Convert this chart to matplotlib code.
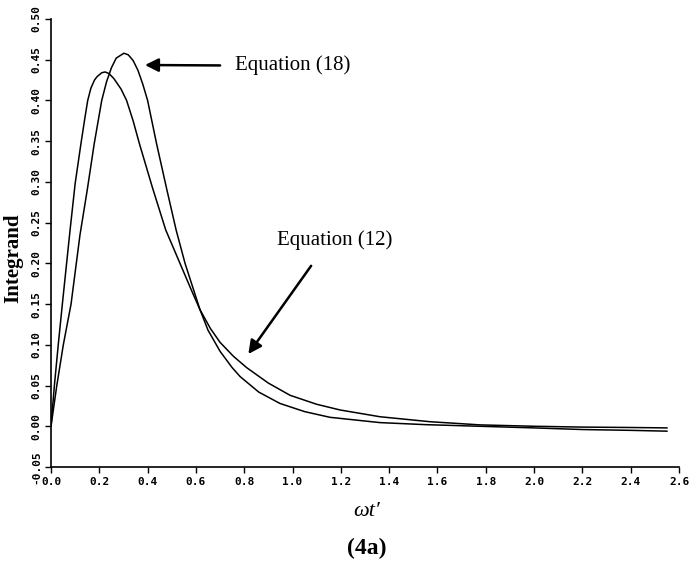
import numpy as np
import matplotlib
matplotlib.use("Agg")
import matplotlib.pyplot as plt

# values
eq12_x = [0.0, 0.014, 0.030, 0.047, 0.079, 0.10, 0.124, 0.14, 0.152, 0.165, 0.18, 0.19,
          0.21, 0.224, 0.24, 0.26, 0.29, 0.313, 0.34, 0.366, 0.42, 0.475, 0.534, 0.58,
          0.617, 0.66, 0.70, 0.755, 0.81, 0.90, 0.99, 1.10, 1.197, 1.362, 1.569, 1.776,
          2.0, 2.2, 2.4, 2.55]
eq12_y = [0.0, 0.05, 0.10, 0.15, 0.241, 0.298, 0.347, 0.378, 0.40, 0.415, 0.425, 0.429,
          0.434, 0.435, 0.433, 0.427, 0.414, 0.40, 0.375, 0.347, 0.293, 0.241, 0.20, 0.168,
          0.143, 0.12, 0.103, 0.086, 0.072, 0.053, 0.038, 0.027, 0.020, 0.0117, 0.0056, 0.0017,
          0.0, -0.001, -0.0015, -0.002]

eq18_x = [0.0, 0.024, 0.051, 0.083, 0.12, 0.15, 0.179, 0.21, 0.23, 0.25, 0.27, 0.302,
          0.32, 0.34, 0.36, 0.38, 0.40, 0.437, 0.48, 0.518, 0.555, 0.617, 0.65, 0.70,
          0.75, 0.783, 0.86, 0.948, 1.05, 1.155, 1.362, 1.55, 1.776, 2.0, 2.2, 2.4, 2.55]
eq18_y = [0.0, 0.05, 0.10, 0.15, 0.235, 0.29, 0.347, 0.40, 0.423, 0.44, 0.452, 0.458,
          0.456, 0.449, 0.437, 0.42, 0.40, 0.347, 0.29, 0.241, 0.20, 0.143, 0.118, 0.092,
          0.072, 0.061, 0.042, 0.028, 0.018, 0.011, 0.0045, 0.002, 0.0, -0.002, -0.004,
          -0.005, -0.006]

x_ticks = [0.0, 0.2, 0.4, 0.6, 0.8, 1.0, 1.2, 1.4, 1.6, 1.8, 2.0, 2.2, 2.4, 2.6]
y_ticks = [-0.05, 0.0, 0.05, 0.10, 0.15, 0.20, 0.25, 0.30, 0.35, 0.40, 0.45, 0.50]

serif = ['Liberation Serif', 'DejaVu Serif']
mono = ['DejaVu Sans Mono']

fig = plt.figure(figsize=(6.95, 5.64), dpi=100)
ax = fig.add_axes([51/695, 1 - 467/564, 628/695, 448/564])

ax.plot(eq12_x, eq12_y, color='black', lw=1.1)
ax.plot(eq18_x, eq18_y, color='black', lw=1.1)

ax.set_xlim(0, 2.6)
ax.set_ylim(-0.05, 0.5)
ax.spines['top'].set_visible(False)
ax.spines['right'].set_visible(False)
for s in ['left', 'bottom']:
    ax.spines[s].set_linewidth(1.2)

ax.set_xticks(x_ticks)
ax.set_xticklabels(['{:.1f}'.format(v) for v in x_ticks],
                   family=mono, fontsize=8, fontweight='bold')
ax.set_yticks(y_ticks)
ax.set_yticklabels(['{:.2f}'.format(v) for v in y_ticks],
                   family=mono, fontsize=8, fontweight='bold',
                   rotation=90, va='center')
ax.tick_params(direction='out', length=4, width=1, pad=3)

# labels
fig.text(13/695, 1 - 258/564, 'Integrand', rotation=90, ha='center', va='center',
         family=serif, fontsize=15, fontweight='bold')
fig.text(367/695, 1 - 512/564, 'ωt′', ha='center', va='center',
         family=serif, fontsize=16, style='italic')
fig.text(367/695, 1 - 548/564, '(4a)', ha='center', va='center',
         family=serif, fontsize=17, fontweight='bold')

# arrows with labels
arrow = dict(arrowstyle='-|>', color='black', lw=1.8, mutation_scale=20,
             shrinkA=0, shrinkB=0)
ax.annotate('', xy=(0.389, 0.4435), xytext=(0.70, 0.443), arrowprops=arrow)
ax.text(0.762, 0.4435, 'Equation (18)', ha='left', va='center',
        family=serif, fontsize=15)
ax.annotate('', xy=(0.817, 0.0887), xytext=(1.077, 0.197), arrowprops=arrow)
ax.text(0.936, 0.2287, 'Equation (12)', ha='left', va='center',
        family=serif, fontsize=15)

fig.savefig('out.png', dpi=100)
